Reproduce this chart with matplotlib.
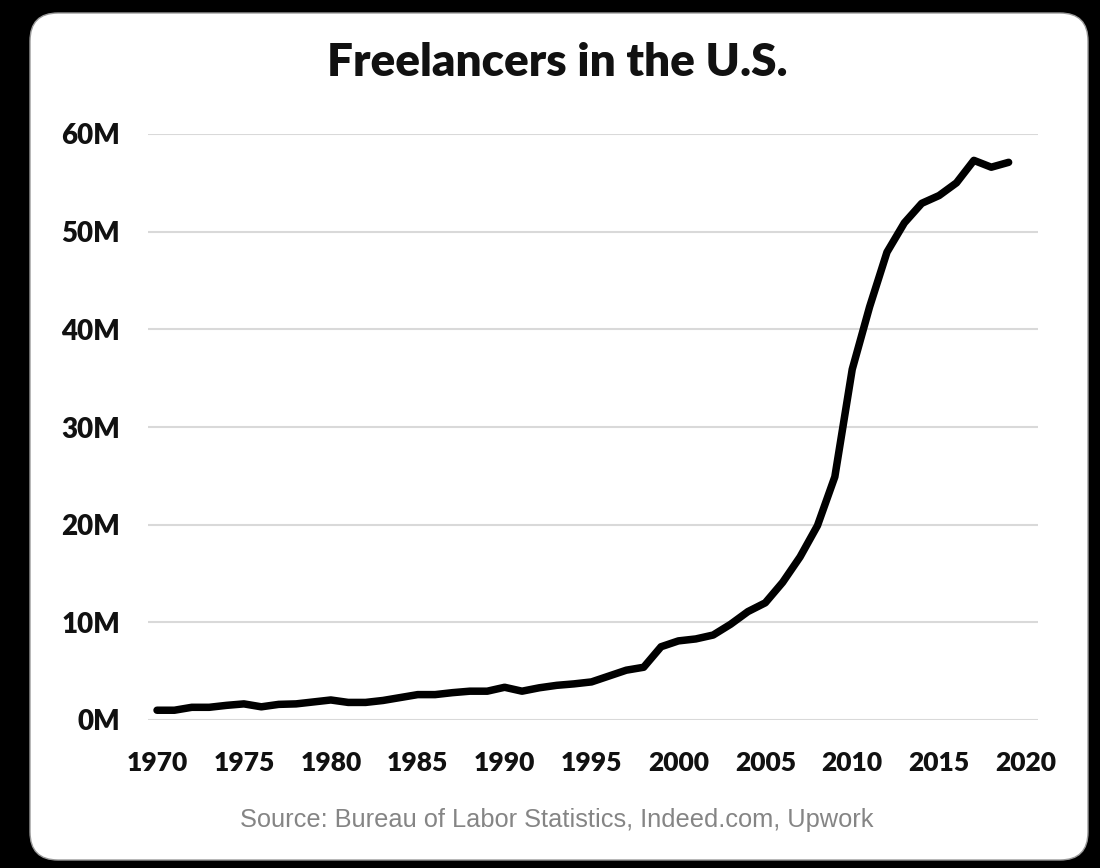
import matplotlib
matplotlib.use('Agg')
import matplotlib.pyplot as plt
from matplotlib.patches import FancyBboxPatch
from matplotlib.ticker import FuncFormatter

years = list(range(1970, 2020))
freelancers_m = [1.0, 1.0, 1.3, 1.3, 1.5, 1.65, 1.35, 1.6, 1.65, 1.85,
                 2.05, 1.8, 1.8, 2.0, 2.3, 2.6, 2.6, 2.8, 2.95, 2.95,
                 3.35, 2.95, 3.3, 3.55, 3.7, 3.9, 4.5, 5.1, 5.4, 7.5,
                 8.1, 8.3, 8.7, 9.8, 11.1, 12.0, 14.1, 16.7, 19.9, 24.9,
                 35.9, 42.3, 47.9, 50.9, 52.9, 53.7, 55.0, 57.3, 56.6, 57.1]
x_ticks = [1970, 1975, 1980, 1985, 1990, 1995, 2000, 2005, 2010, 2015, 2020]
y_ticks = [0, 10, 20, 30, 40, 50, 60]
title = "Freelancers in the U.S."
source = "Source: Bureau of Labor Statistics, Indeed.com, Upwork"

W, H, DPI = 1100, 868, 100
fig = plt.figure(figsize=(W / DPI, H / DPI), dpi=DPI, facecolor='black')

panel = FancyBboxPatch((30 / DPI, 8 / DPI), 1058 / DPI, 847 / DPI,
                       boxstyle="round,pad=0,rounding_size=0.28",
                       transform=fig.dpi_scale_trans, facecolor='white',
                       edgecolor='#9a9a9a', linewidth=1.0, zorder=-5)
fig.patches.append(panel)

ax = fig.add_axes([148 / W, (H - 720) / H, 890 / W, 586 / H])
ax.set_zorder(2)
ax.set_facecolor('none')
ax.plot(years, freelancers_m, color='black', linewidth=5.4,
        solid_capstyle='round', solid_joinstyle='round', clip_on=False, zorder=3)

ax.set_xlim(1969.48, 2020.69)
ax.set_ylim(0, 60)
ax.set_xticks(x_ticks)
ax.set_yticks(y_ticks)
ax.yaxis.set_major_formatter(FuncFormatter(lambda v, p: f"{int(v)}M"))
ax.grid(axis='y', color='#d9d9d9', linewidth=1.5, zorder=1)
ax.grid(axis='x', visible=False)
for s in ax.spines.values():
    s.set_visible(False)
ax.tick_params(axis='both', length=0)
ax.tick_params(axis='x', pad=22)
ax.tick_params(axis='y', pad=20)
for lbl in ax.get_xticklabels():
    lbl.set_fontfamily('Lato')
    lbl.set_fontweight('heavy')
    lbl.set_fontsize(19)
    lbl.set_color('#111111')
for lbl in ax.get_yticklabels():
    lbl.set_fontfamily('Lato')
    lbl.set_fontweight('heavy')
    lbl.set_fontsize(20)
    lbl.set_color('#111111')

fig.text(557 / W, (H - 62) / H, title, ha='center', va='center',
         fontfamily='Lato', fontweight='heavy', fontsize=33, color='#111111')
fig.text(557 / W, (H - 820) / H, source, ha='center', va='center',
         fontfamily='Liberation Sans', fontsize=18.3, color='#858585')

fig.savefig('out.png', dpi=DPI, facecolor='black')
